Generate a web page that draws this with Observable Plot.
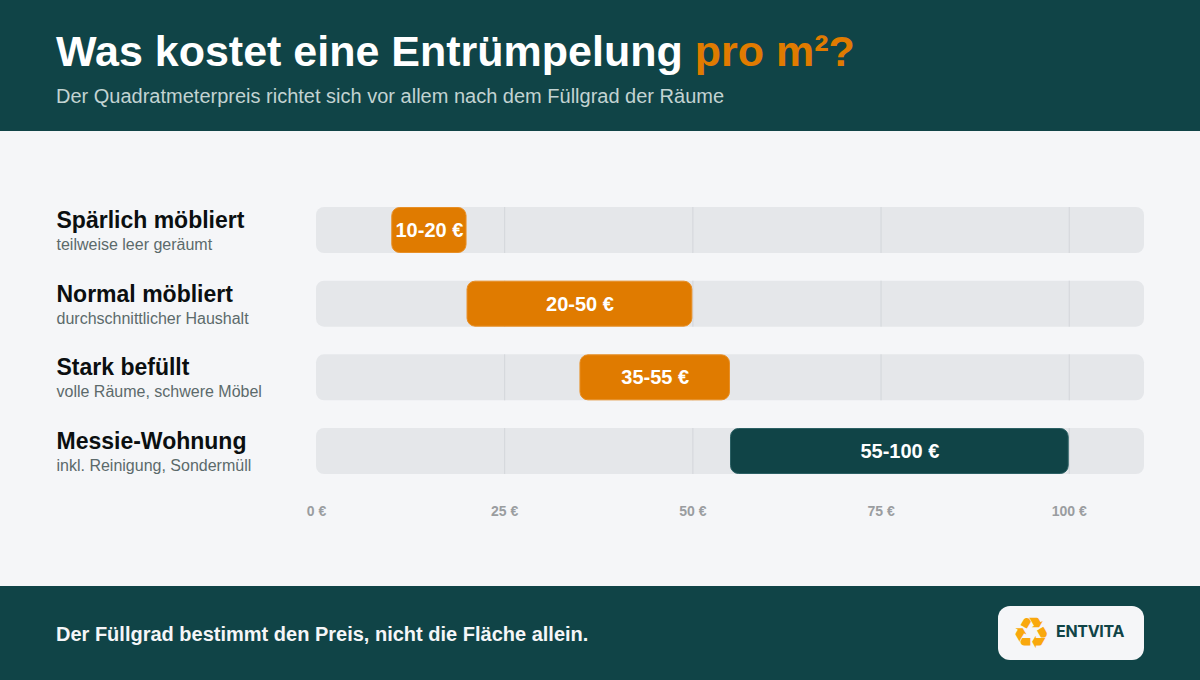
<!DOCTYPE html>
<html lang="de">
<head>
<meta charset="utf-8">
<script src="https://cdn.jsdelivr.net/npm/d3@7"></script>
<script src="https://cdn.jsdelivr.net/npm/@observablehq/plot@0.6"></script>
<style>
html,body{margin:0;padding:0;background:#f5f6f8;font-family:"Liberation Sans",Arial,sans-serif;}
#page{width:1200px;height:680px;position:relative;overflow:hidden;}
header{position:absolute;left:0;top:0;width:1200px;height:131px;background:#104447;}
h1{position:absolute;left:56px;top:25px;margin:0;font-size:43px;line-height:52px;font-weight:700;color:#fff;white-space:nowrap;}
h1 span{color:#e07b00;}
.sub{position:absolute;left:56px;top:84px;font-size:20px;line-height:24px;color:#c2d3d2;white-space:nowrap;}
#chart{position:absolute;left:0;top:131px;width:1200px;height:455px;}
#chart svg{display:block;}
footer{position:absolute;left:0;top:586px;width:1200px;height:94px;background:#104447;}
.note{position:absolute;left:56px;top:36px;font-size:20px;line-height:24px;font-weight:700;color:#f5f6f8;white-space:nowrap;}
.logo{position:absolute;left:998px;top:20px;width:146px;height:54px;border-radius:12px;background:#f5f6f8;}
.logo .sym{position:absolute;left:12px;top:0;width:42px;height:54px;line-height:54px;text-align:center;font-family:"DejaVu Sans";font-size:43px;color:#f9a80d;}
.logo .name{position:absolute;left:58px;top:0;line-height:51px;font-family:Inter,sans-serif;font-weight:700;font-size:16px;letter-spacing:-0.3px;color:#104447;}
</style>
</head>
<body>
<div id="page">
  <header>
    <h1>Was kostet eine Entrümpelung <span>pro m²?</span></h1>
    <div class="sub">Der Quadratmeterpreis richtet sich vor allem nach dem Füllgrad der Räume</div>
  </header>
  <div id="chart"></div>
  <footer>
    <div class="note">Der Füllgrad bestimmt den Preis, nicht die Fläche allein.</div>
    <div class="logo"><span class="sym">♻</span><span class="name">ENTVITA</span></div>
  </footer>
</div>
<script>
const categories = ["Spärlich möbliert", "Normal möbliert", "Stark befüllt", "Messie-Wohnung"];
const subtitles = ["teilweise leer geräumt", "durchschnittlicher Haushalt", "volle Räume, schwere Möbel", "inkl. Reinigung, Sondermüll"];
const low = [10, 20, 35, 55];
const high = [20, 50, 55, 100];
const kinds = ["a", "a", "a", "b"];
const gridValues = [25, 50, 75, 100];
const tickValues = [0, 25, 50, 75, 100];
const axisMax = 110;

const rows = categories.map((c, i) => ({c, sub: subtitles[i], low: low[i], high: high[i], kind: kinds[i], mid: (low[i] + high[i]) / 2}));
const grid = categories.flatMap(c => gridValues.map(v => ({c, v})));
const font = '"Liberation Sans", Arial, sans-serif';

const plot = Plot.plot({
  width: 1200,
  height: 455,
  marginLeft: 316,
  marginRight: 56,
  marginTop: 76,
  marginBottom: 112,
  style: {background: "transparent", fontFamily: font},
  x: {domain: [0, axisMax]},
  y: {domain: categories, paddingInner: 0.3756, paddingOuter: 0, align: 0.5, round: false},
  marks: [
    Plot.barX(rows, {x1: () => 0, x2: () => axisMax, y: "c", fill: "#e5e7ea", rx: 8}),
    Plot.ruleX(grid, {x: "v", y1: "c", y2: "c", stroke: "#d3d6da", strokeWidth: 1}),
    Plot.barX(rows, {x1: "low", x2: "high", y: "c", rx: 8, inset: 0.5,
      fill: d => d.kind === "a" ? "#e07b00" : "#104447",
      stroke: d => d.kind === "a" ? "#e88f26" : "#2b6064", strokeWidth: 1}),
    Plot.text(rows, {x: "mid", y: "c", text: d => `${d.low}-${d.high} €`, fill: "#fff",
      fontWeight: 700, fontSize: 20, lineAnchor: "middle", dy: 0}),
    Plot.text(rows, {y: "c", text: "c", frameAnchor: "left", textAnchor: "start", dx: -260, dy: -10,
      fontWeight: 700, fontSize: 23, fill: "#0b0f10", lineAnchor: "middle"}),
    Plot.text(rows, {y: "c", text: "sub", frameAnchor: "left", textAnchor: "start", dx: -260, dy: 14.5,
      fontSize: 16, fill: "#5c6a6b", lineAnchor: "middle"}),
    Plot.axisX({ticks: tickValues, tickFormat: d => `${d} €`, tickSize: 0, tickPadding: 31.5,
      fontSize: 14, fontWeight: 700, fill: "#9a9da0", label: null}),
    Plot.axisY({ticks: [], label: null})
  ]
});
document.getElementById("chart").appendChild(plot);
</script>
</body>
</html>
